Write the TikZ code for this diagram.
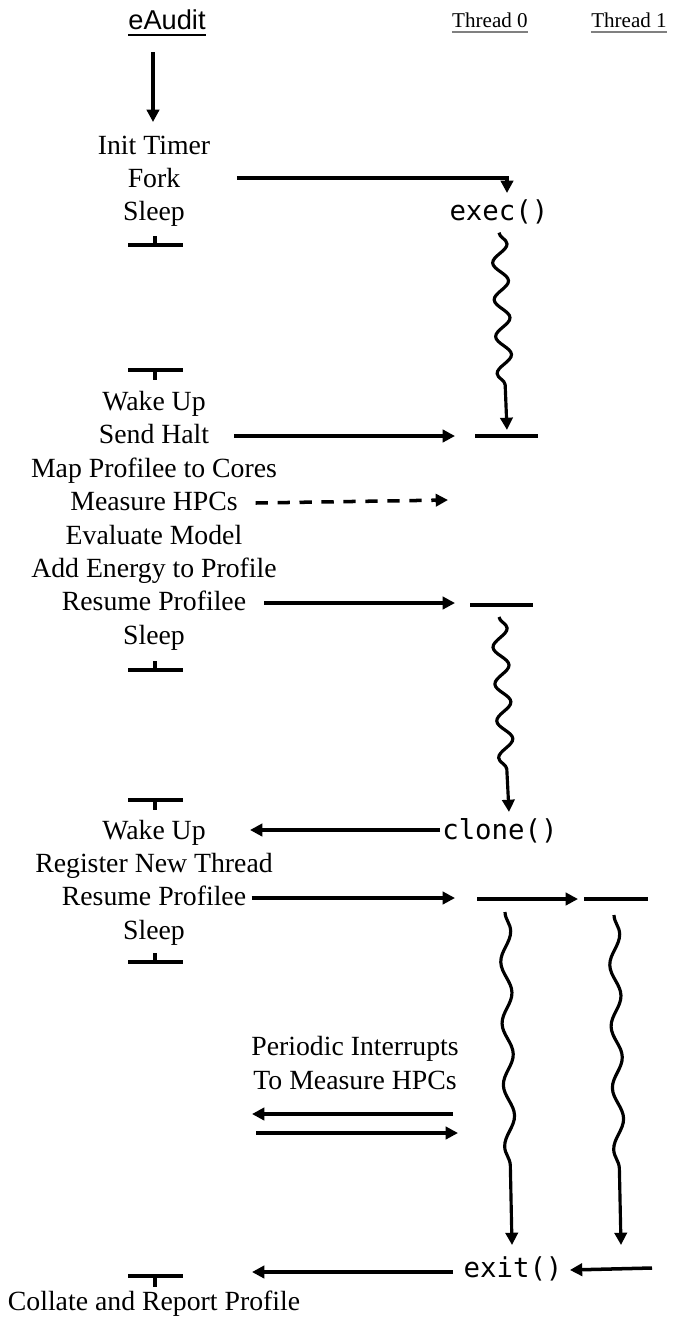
\documentclass[tikz,border=0pt]{standalone}
\usepackage{fontspec}
\setmainfont{Liberation Serif}
\setsansfont{Liberation Sans}
\setmonofont{DejaVu Sans Mono}
\usetikzlibrary{arrows.meta,decorations.pathmorphing}
\begin{document}
\begin{tikzpicture}[x=0.02cm, y=-0.02cm,
    txt/.style={font=\fontsize{15.8}{19}\selectfont, inner sep=0pt, text height=11pt, text depth=3pt},
    code/.style={font=\fontsize{15.6}{19}\selectfont\ttfamily, inner sep=0pt, text height=11pt, text depth=3pt},
    hdr/.style={font=\fontsize{12}{14}\selectfont, inner sep=0pt},
    arr/.style={line width=2pt, -{Triangle[length=7pt,width=7pt]}},
    bar/.style={line width=2pt},
    wave/.style={line width=1.8pt, -{Triangle[length=7pt,width=7pt]}, decorate,
        decoration={snake, segment length=21pt, amplitude=4.3pt, post length=16pt}},
    longwave/.style={wave, decoration={snake, segment length=35pt, amplitude=3pt, post length=36pt}}]
    \useasboundingbox (0,0) rectangle (692,1319);
    % headers
    \node[font=\fontsize{15.5}{18}\selectfont\sffamily, inner sep=0pt] (eaudit) at (167,20) {eAudit};
    \node[hdr] (thr0) at (490,20) {Thread 0};
    \node[hdr] (thr1) at (629,20) {Thread 1};
    \draw[line width=1.1pt] ([yshift=-2.5pt]eaudit.south west) -- ([yshift=-2.5pt]eaudit.south east);
    \draw[line width=0.8pt, gray] ([yshift=-2.5pt]thr0.south west) -- ([yshift=-2.5pt]thr0.south east);
    \draw[line width=0.8pt, gray] ([yshift=-2.5pt]thr1.south west) -- ([yshift=-2.5pt]thr1.south east);

    % eAudit column
    \node[txt] (init) at (154,147) {Init Timer};
    \node[txt] (fork) at (154,180) {Fork};
    \node[txt] (sleep1) at (154,213) {Sleep};
    \node[txt] (wake1) at (154,403) {Wake Up};
    \node[txt] (halt) at (154,436) {Send Halt};
    \node[txt] (map) at (154,470) {Map Profilee to Cores};
    \node[txt] (measure) at (154,503) {Measure HPCs};
    \node[txt] (eval) at (154,537) {Evaluate Model};
    \node[txt] (energy) at (154,570) {Add Energy to Profile};
    \node[txt] (resume1) at (154,603) {Resume Profilee};
    \node[txt] (sleep2) at (154,637) {Sleep};
    \node[txt] (wake2) at (154,832) {Wake Up};
    \node[txt] (register) at (154,865) {Register New Thread};
    \node[txt] (resume2) at (154,898) {Resume Profilee};
    \node[txt] (sleep3) at (154,932) {Sleep};
    \node[txt] (periodic) at (355,1048) {Periodic Interrupts};
    \node[txt] (tomeasure) at (355,1082) {To Measure HPCs};
    \node[txt] (collate) at (154,1303) {Collate and Report Profile};

    % thread calls
    \node[code] (exec) at (499,213) {exec()};
    \node[code] (clone) at (500,832) {clone()};
    \node[code] (exit) at (513,1270) {exit()};

    % sleep marks
    \draw[bar] (128,245) -- (183,245) (155,245) -- (155,236);
    \draw[bar] (128,370) -- (183,370) (155,370) -- (155,380);
    \draw[bar] (128,670) -- (183,670) (155,670) -- (155,661);
    \draw[bar] (128,800) -- (183,800) (155,800) -- (155,810);
    \draw[bar] (128,962) -- (183,962) (155,962) -- (155,953);
    \draw[bar] (128,1276) -- (183,1276) (155,1276) -- (155,1287);

    % thread 0 / thread 1 stops
    \draw[bar] (475,436) -- (538,436);
    \draw[bar] (470,605) -- (533,605);
    \draw[bar] (477,899) -- (540,899);
    \draw[bar] (584,899) -- (648,899);

    \coordinate (start) at (153,52);
    \coordinate (forkin) at (507,193);
    \coordinate (haltin) at (455,436);
    \coordinate (hpcin) at (448,500);
    \coordinate (resumein1) at (455,603);
    \coordinate (clonefrom) at (440,830);
    \coordinate (resumein2) at (455,898);
    \coordinate (t0end) at (512,1245);
    \coordinate (t1end) at (621,1245);
    \coordinate (exitfrom) at (453,1272);

    % connectors
    \draw[arr] (start) -- (153,122);
    \draw[arr] ([xshift=32]fork.east |- 0,178) -| (forkin);
    \draw[wave] ([yshift=-4pt]exec.south) -- (507,430);
    \draw[arr] ([xshift=14]halt.east) -- (haltin);
    \draw[arr, dash pattern=on 7pt off 5.5pt] ([xshift=10]measure.east) -- (hpcin);
    \draw[arr] ([xshift=10]resume1.east) -- (resumein1);
    \draw[wave] (499,617) -- (509,812);
    \draw[arr] (clonefrom) -- (250,830);
    \draw[arr] ([xshift=3]resume2.east) -- (resumein2);
    \draw[arr] (540,899) -- (578,899);
    \draw[longwave] (505,912) -- (t0end);
    \draw[longwave] (614,915) -- (t1end);
    \draw[arr] (453,1114) -- (252,1114);
    \draw[arr] (256,1133) -- (458,1133);
    \draw[arr] (exitfrom) -- (252,1272);
    \draw[arr] (652,1268) -- ([xshift=4]exit.east);
\end{tikzpicture}
\end{document}
